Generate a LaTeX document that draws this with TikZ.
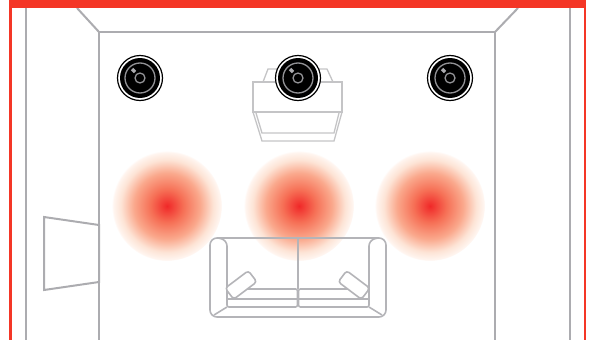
\documentclass[tikz,border=0pt]{standalone}
\usepackage{tikz}
\usepackage{xcolor}
\usetikzlibrary{shapes.geometric, positioning, calc}
\definecolor{framered}{RGB}{244, 54, 38}
\definecolor{wallgray}{RGB}{172, 172, 176}
\definecolor{sofagray}{RGB}{180, 180, 184}
\definecolor{projgray}{RGB}{196, 196, 198}
\definecolor{glowcore}{RGB}{240, 40, 40}
\definecolor{glowmid}{RGB}{246, 112, 86}
\definecolor{glowouter}{RGB}{250, 168, 140}
\definecolor{glowrim}{RGB}{253, 228, 214}
\definecolor{glowedge}{RGB}{255, 246, 241}
\pgfdeclareradialshading{glowshade}{\pgfpointorigin}{
  color(0bp)=(glowcore);
  color(7.5bp)=(glowmid);
  color(15bp)=(glowouter);
  color(21bp)=(glowrim);
  color(24.6bp)=(glowedge);
  color(25bp)=(white);
  color(50bp)=(white)}
\tikzset{
  wall/.style={draw=wallgray, line width=2pt},
  sofaline/.style={draw=sofagray, line width=1.6pt},
  projline/.style={draw=projgray, line width=1.3pt},
  glow/.style={circle, minimum size=110pt, inner sep=0pt, shading=glowshade},
  speaker/.style={circle, draw=black, line width=1.2pt, fill=white, minimum size=45pt, inner sep=0pt},
  speakerface/.style={circle, fill=black, minimum size=40pt, inner sep=0pt},
  pillow/.style={rectangle, sofaline, fill=white, rounded corners=3pt,
                 minimum width=29pt, minimum height=14pt, inner sep=0pt},
}

\begin{document}
\begin{tikzpicture}[x=1pt, y=-1pt]
\useasboundingbox (0,0) rectangle (589,340);

% Sound field
\foreach \name/\x in {glowleft/167, glowcentre/299, glowright/430} {
    \node[glow] (\name) at (\x,206) {};
}

% Room walls
\draw[wall] (26,8) -- (26,340);
\draw[wall] (570,8) -- (570,340);
\draw[wall] (99,340) -- (99,32) -- (495,32) -- (495,340);
\draw[wall] (77,8) -- (99,32);
\draw[wall] (518,8) -- (495,32);

% Window on the side wall
\draw[wall, line join=miter] (44,217) -- (99,225) -- (99,282) -- (44,290) -- cycle;

% Projector
\draw[projline] (263,82) -- (268,69) -- (327,69) -- (333,82);
\draw[projline] (253,82) rectangle (342,112);
\draw[projline] (253,112) -- (262,141) -- (334,141) -- (342,112);
\draw[projline] (256,113) -- (262,133) -- (334,133) -- (339,113);

% Speakers
\foreach \name/\x in {speakerleft/140, speakercentre/298, speakerright/450} {
    \node[speaker] (\name) at (\x,78) {};
    \node[speakerface] at (\name.center) {};
    \node[circle, draw=wallgray!85!black, line width=1.3pt, minimum size=30pt, inner sep=0pt] at (\name.center) {};
    \node[circle, draw=wallgray!85!black, line width=1.3pt, minimum size=10pt, inner sep=0pt] at (\name.center) {};
    \draw[wallgray, line width=3.5pt] ($(\name.center)+(-8,-9)$) -- ($(\name.center)+(-5,-6)$);
}

% Sofa
\draw[sofaline, rounded corners=7pt] (227,238) -- (210,238) -- (210,317) -- (386,317) -- (386,238) -- (369,238);
\draw[sofaline, rounded corners=6pt] (218,238) -- (227,240) -- (227,299);
\draw[sofaline, rounded corners=6pt] (378,238) -- (369,240) -- (369,299);
\draw[sofaline] (227,238) -- (369,238);
\draw[sofaline] (298,238) -- (298,289);
\draw[sofaline] (214,315) -- (227,307);
\draw[sofaline] (382,315) -- (369,307);
\draw[sofaline, rounded corners=2pt] (227,289) rectangle (297.5,307);
\draw[sofaline, rounded corners=2pt] (298.5,289) rectangle (369,307);
\draw[sofaline] (227,299) -- (297.5,299);
\draw[sofaline] (298.5,299) -- (369,299);

% Pillows
\node[pillow, rotate=37] (pillowleft) at (241,285) {};
\node[pillow, rotate=-37] (pillowright) at (354,285) {};

% Red frame
\fill[framered] (9,0) rectangle (586,8);
\fill[framered] (9,0) rectangle (11.5,340);
\fill[framered] (583.5,0) rectangle (586,340);

\end{tikzpicture}
\end{document}
